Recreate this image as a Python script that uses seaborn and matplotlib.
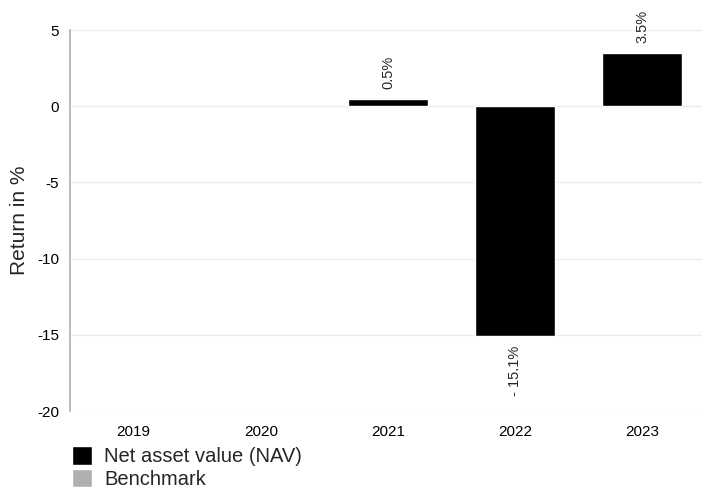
import pandas as pd
import numpy as np
import matplotlib
matplotlib.use("Agg")
import matplotlib.pyplot as plt
import seaborn as sns

years = ["2019", "2020", "2021", "2022", "2023"]
nav = [np.nan, np.nan, 0.5, -15.1, 3.5]
benchmark = [np.nan, np.nan, np.nan, np.nan, np.nan]
series_names = ["Net asset value (NAV)", "Benchmark"]
bar_labels = ["", "", "0.5%", "- 15.1%", "3.5%"]

df = pd.DataFrame({
    "year": years * 2,
    "value": nav + benchmark,
    "series": [series_names[0]] * 5 + [series_names[1]] * 5,
})

sns.set_style("white")
plt.rcParams["font.family"] = ["Liberation Sans", "DejaVu Sans"]
plt.rcParams["axes.unicode_minus"] = False

fig = plt.figure(figsize=(7.02, 4.90), dpi=100)
ax = fig.add_axes([70 / 702, 79 / 490, 636 / 702, 381 / 490])

sns.barplot(data=df, x="year", y="value", hue="series", order=years,
            hue_order=series_names, palette=["#000000", "#b0b0b0"],
            dodge=False, width=0.63, ax=ax, errorbar=None, zorder=3)

ax.set_ylim(-20, 5)
ax.set_yticks(range(-20, 6, 5))
ax.grid(axis="y", color="#ececec", linewidth=1, zorder=0)
ax.set_axisbelow(True)
for s in ["top", "right", "bottom"]:
    ax.spines[s].set_visible(False)
ax.spines["left"].set_color("#b0b0b0")
ax.spines["left"].set_linewidth(1.2)
ax.tick_params(axis="both", length=0, labelsize=11, colors="#000000")
ax.tick_params(axis="x", pad=10)
ax.tick_params(axis="y", pad=8)
ax.set_xlabel("")
ax.set_ylabel("Return in %", fontsize=15, labelpad=6)

for i, (v, lab) in enumerate(zip(nav, bar_labels)):
    if lab == "":
        continue
    if v >= 0:
        ax.annotate(lab, (i, v), xytext=(0, 7), textcoords="offset points",
                    rotation=90, ha="center", va="bottom", fontsize=10.5)
    else:
        ax.annotate(lab, (i, v), xytext=(0, -7), textcoords="offset points",
                    rotation=90, ha="center", va="top", fontsize=10.5)

handles, labels = ax.get_legend_handles_labels()
ax.legend(handles, labels, loc="upper left", bbox_to_anchor=(-0.01, -0.072),
          frameon=False, fontsize=14.5, handlelength=1.0, handleheight=1.0,
          handletextpad=0.6, labelspacing=0.15, borderaxespad=0)

fig.savefig("out.png", dpi=100)
